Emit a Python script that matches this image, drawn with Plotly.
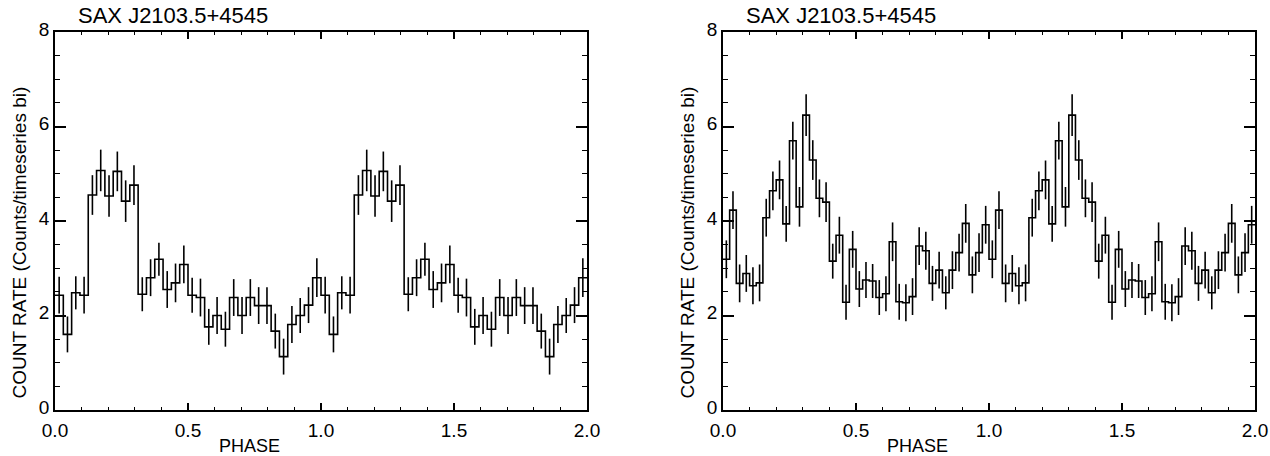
import plotly.graph_objects as go

# ---- data (one pulse cycle, shown twice) ----
title_text = "SAX J2103.5+4545"
x_label = "PHASE"
y_label = "COUNT RATE (Counts/timeseries bi)"
x_ticks = [0.0, 0.5, 1.0, 1.5, 2.0]
y_ticks = [0, 2, 4, 6, 8]

left_rate = [2.43, 1.60, 2.48, 2.43, 4.55, 5.07, 4.53, 5.05, 4.42, 4.76,
             2.45, 2.80, 3.19, 2.55, 2.69, 3.08, 2.43, 2.38, 1.76, 2.00,
             1.71, 2.38, 2.00, 2.38, 2.21, 2.21, 1.67, 1.13, 1.81, 2.00,
             2.22, 2.80]
left_err = [0.39, 0.38, 0.35, 0.39, 0.42, 0.44, 0.44, 0.42, 0.44, 0.42,
            0.36, 0.39, 0.35, 0.39, 0.41, 0.40, 0.37, 0.40, 0.38, 0.39,
            0.37, 0.39, 0.39, 0.39, 0.39, 0.39, 0.37, 0.38, 0.39, 0.37,
            0.38, 0.41]

right_rate = [3.19, 4.23, 2.68, 2.89, 2.63, 2.69, 4.07, 4.64, 4.87, 3.94,
              5.70, 4.30, 6.24, 5.29, 4.48, 4.40, 3.15, 3.70, 2.28, 3.40,
              2.56, 2.75, 2.73, 2.38, 2.46, 3.56, 2.29, 2.27, 2.40, 3.47,
              3.37, 2.68, 2.96, 2.48, 2.96, 3.33, 3.95, 2.86, 3.33, 3.92]
right_err = [0.40, 0.40, 0.40, 0.39, 0.39, 0.39, 0.40, 0.41, 0.41, 0.38,
             0.40, 0.42, 0.44, 0.42, 0.40, 0.42, 0.37, 0.39, 0.37, 0.39,
             0.38, 0.38, 0.36, 0.37, 0.37, 0.41, 0.38, 0.39, 0.39, 0.40,
             0.40, 0.37, 0.39, 0.35, 0.40, 0.40, 0.41, 0.39, 0.41, 0.40]

N_CYCLES = 2
FONT = "Liberation Sans, Arial, Helvetica, sans-serif"
W, H = 1270, 456


def panel(rate, err):
    y = rate * N_CYCLES
    e = err * N_CYCLES
    n = len(y)
    w = N_CYCLES / n
    edges = [i * w for i in range(n + 1)]
    centers = [(i + 0.5) * w for i in range(n)]
    return edges, y + [y[-1]], centers, y, e


fig = go.Figure()
for k, (rate, err) in enumerate([(left_rate, left_err), (right_rate, right_err)]):
    edges, ystep, centers, yv, ev = panel(rate, err)
    xa = "x" if k == 0 else "x2"
    ya = "y" if k == 0 else "y2"
    fig.add_trace(go.Scatter(x=edges, y=ystep, mode="lines", line_shape="hv",
                             line=dict(color="black", width=1.6),
                             xaxis=xa, yaxis=ya, showlegend=False, hoverinfo="skip"))
    fig.add_trace(go.Scatter(x=centers, y=yv, mode="markers",
                             marker=dict(size=1, color="rgba(0,0,0,0)"),
                             error_y=dict(type="data", array=ev, visible=True,
                                          color="black", thickness=1.6, width=0),
                             xaxis=xa, yaxis=ya, showlegend=False, hoverinfo="skip"))

px_left = [(55, 587), (723, 1255)]
y_top, y_bot = 32, 410
ydom = [(H - y_bot) / H, (H - y_top) / H]

common_x = dict(range=[0, 2], tickvals=x_ticks, tickformat=".1f", automargin=False,
                showline=True, linecolor="black", linewidth=1.6, mirror="ticks",
                ticks="inside", ticklen=7, tickwidth=1.6, tickcolor="black",
                ticklabelstandoff=2,
                minor=dict(dtick=0.1, ticks="inside", ticklen=3.5, tickwidth=1.4,
                           tickcolor="black", showgrid=False),
                showgrid=False, zeroline=False, fixedrange=True,
                tickfont=dict(family=FONT, size=19, color="black"))
common_y = dict(range=[0, 8], tickvals=y_ticks, automargin=False,
                showline=True, linecolor="black", linewidth=1.6, mirror="ticks",
                ticks="inside", ticklen=11, tickwidth=1.6, tickcolor="black",
                ticklabelshift=-3,
                minor=dict(dtick=0.5, ticks="inside", ticklen=5.5, tickwidth=1.4,
                           tickcolor="black", showgrid=False),
                showgrid=False, zeroline=False, fixedrange=True,
                tickfont=dict(family=FONT, size=19, color="black"))

fig.update_layout(
    width=W, height=H, margin=dict(l=0, r=0, t=0, b=0, autoexpand=False),
    paper_bgcolor="white", plot_bgcolor="white",
    xaxis=dict(common_x, domain=[px_left[0][0] / W, px_left[0][1] / W], anchor="y"),
    yaxis=dict(common_y, domain=ydom, anchor="x"),
    xaxis2=dict(common_x, domain=[px_left[1][0] / W, px_left[1][1] / W], anchor="y2"),
    yaxis2=dict(common_y, domain=ydom, anchor="x2"),
)

ann = []
for (l, r) in px_left:
    ann.append(dict(text=title_text, x=(l + 21) / W, y=(H - 15.5) / H, xref="paper", yref="paper",
                    xanchor="left", yanchor="middle", showarrow=False,
                    font=dict(family=FONT, size=22, color="black")))
    ann.append(dict(text=x_label, x=(l + 194) / W, y=(H - 446) / H, xref="paper", yref="paper",
                    xanchor="center", yanchor="middle", showarrow=False,
                    font=dict(family=FONT, size=18, color="black")))
    ann.append(dict(text=y_label, x=(l - 36.5) / W, y=(H - 243) / H,
                    xref="paper", yref="paper", textangle=-90,
                    xanchor="center", yanchor="middle", showarrow=False,
                    font=dict(family=FONT, size=19, color="black")))
fig.update_layout(annotations=ann)

fig.write_html("out.html")
